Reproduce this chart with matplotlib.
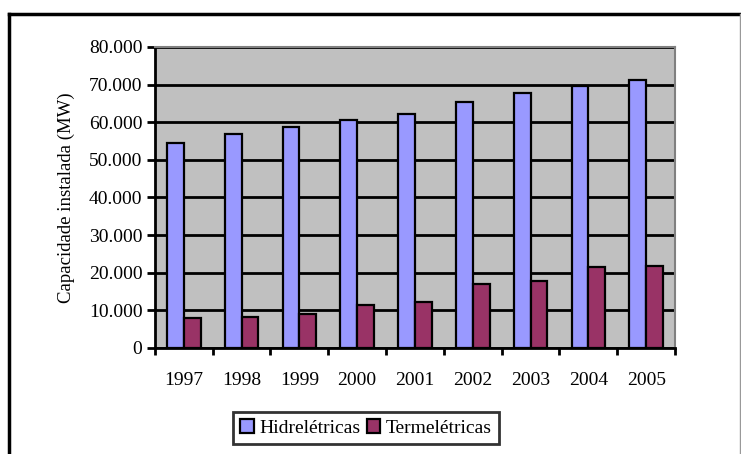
import numpy as np
import matplotlib.pyplot as plt
from matplotlib.lines import Line2D

anos = ["1997", "1998", "1999", "2000", "2001", "2002", "2003", "2004", "2005"]
hidreletricas = [54400, 56800, 58700, 60700, 62200, 65500, 67700, 69500, 71200]
termeletricas = [8100, 8300, 9000, 11500, 12100, 16900, 17900, 21400, 21900]
yticks = [0, 10000, 20000, 30000, 40000, 50000, 60000, 70000, 80000]
ytick_labels = ["0", "10.000", "20.000", "30.000", "40.000", "50.000",
                "60.000", "70.000", "80.000"]

plt.rcParams["font.family"] = ["Liberation Serif", "DejaVu Serif"]

fig = plt.figure(figsize=(7.41, 4.54), dpi=100)
ax = fig.add_axes([0.209, 0.2335, 0.702, 0.663])
ax.set_facecolor("#c0c0c0")

x = np.arange(len(anos))
w = 0.29
ax.bar(x - w / 2, hidreletricas, w, color="#9999ff", edgecolor="black",
       lw=1.6, label="Hidrelétricas", zorder=3)
ax.bar(x + w / 2, termeletricas, w, color="#993366", edgecolor="black",
       lw=1.6, label="Termelétricas", zorder=3)

ax.set_xlim(-0.5, len(anos) - 0.5)
ax.set_ylim(0, 80000)
ax.set_yticks(yticks)
ax.set_yticklabels(ytick_labels, fontsize=14)
ax.set_xticks(x)
ax.set_xticklabels(anos, fontsize=14)
ax.tick_params(axis="x", length=0, pad=17)
ax.set_xticks(np.arange(len(anos) + 1) - 0.5, minor=True)
ax.tick_params(axis="x", which="minor", length=5, width=2, direction="out")
ax.tick_params(axis="y", length=6, width=2, direction="out", pad=3)
ax.grid(axis="y", color="black", lw=2, zorder=1)
ax.set_axisbelow(True)

for s in ["top", "right"]:
    ax.spines[s].set_color("#808080")
    ax.spines[s].set_linewidth(1.5)
ax.spines["left"].set_linewidth(2)
ax.spines["bottom"].set_linewidth(2)

ax.set_ylabel("Capacidade instalada (MW)", fontsize=13.5, labelpad=10)

leg = ax.legend(loc="upper center", bbox_to_anchor=(0.406, -0.214), ncol=2,
                fontsize=14, frameon=True, fancybox=False, handlelength=0.7,
                handleheight=0.7, handletextpad=0.3, columnspacing=0.3,
                borderpad=0.35, borderaxespad=0)
leg.get_frame().set_edgecolor("black")
leg.get_frame().set_linewidth(2)

# moldura externa
fig.add_artist(Line2D([0.012, 1.0], [0.97, 0.97], color="black", lw=2.5))
fig.add_artist(Line2D([0.012, 0.012], [0.0, 0.97], color="black", lw=2.5))
fig.add_artist(Line2D([0.998, 0.998], [0.0, 0.97], color="#999999", lw=1))

fig.savefig("out.png", dpi=100)
